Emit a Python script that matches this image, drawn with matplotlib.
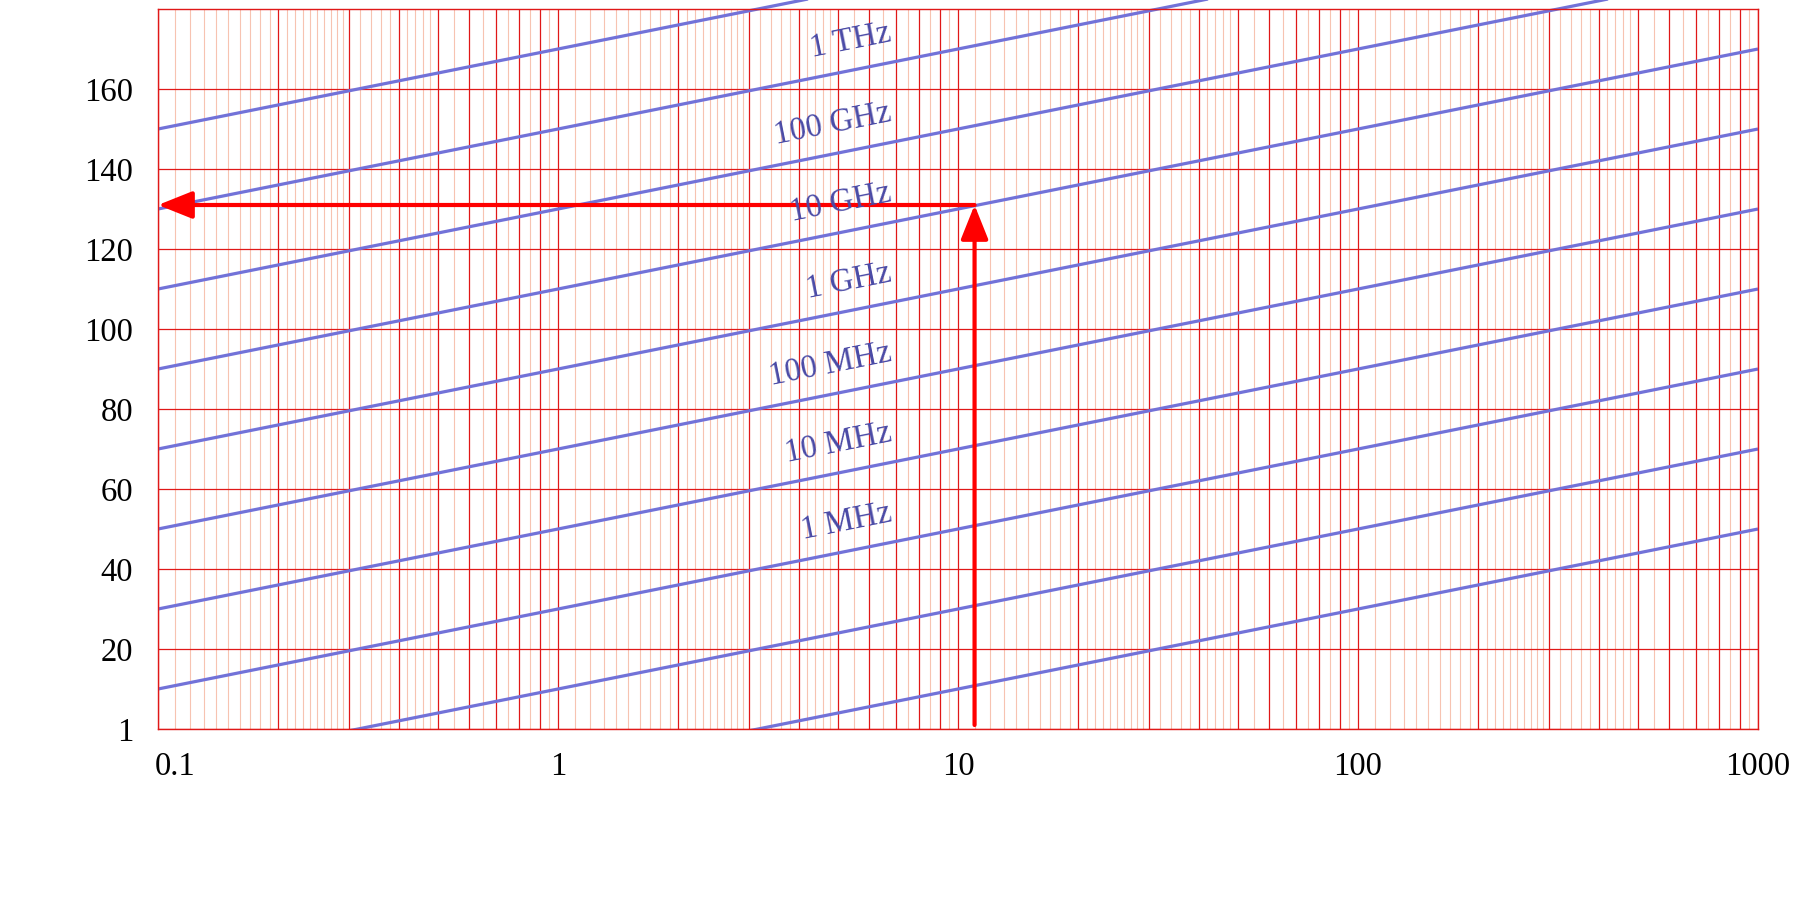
import matplotlib
matplotlib.use('Agg')
import matplotlib.pyplot as plt
from matplotlib.patches import Rectangle
import matplotlib.transforms as mtransforms
import numpy as np

plt.rcParams['font.family'] = ['Liberation Serif', 'DejaVu Serif']

# straight lines on the log axis, read at the two ends (x = 0.1 and x = 1000)
line_x = [0.1, 1000]
line_y_start = [150, 130, 110, 90, 70, 50, 30, 10, -10, -30]
line_y_end = [230, 210, 190, 170, 150, 130, 110, 90, 70, 50]

# labels of the lines, right end at x = 6.8
label_names = ['1 THz', '100 GHz', '10 GHz', '1 GHz', '100 MHz', '10 MHz', '1 MHz']
label_x = 6.8
label_y = [174, 154, 134, 114, 94, 74, 54]

# the read-off example (arrow)
arrow_x = 11
arrow_y = 131
arrow_y0 = 1

xtick_decades = [0.1, 1, 10, 100, 1000]
xtick_labels = ['0.1', '1', '10', '100', '1000']
ytick_values = [0, 20, 40, 60, 80, 100, 120, 140, 160]
ytick_labels = ['1', '20', '40', '60', '80', '100', '120', '140', '160']

major_subs = [1, 2, 3, 4, 5, 6, 7, 8, 9]
fine_subs = [1.1, 1.2, 1.3, 1.4, 1.5, 1.6, 1.7, 1.8, 1.9,
             2.1, 2.2, 2.3, 2.4, 2.5, 2.6, 2.7, 2.8, 2.9,
             3.2, 3.4, 3.6, 3.8, 4.2, 4.4, 4.6, 4.8,
             5.5, 6.5, 7.5, 8.5, 9.5]

fig = plt.figure(figsize=(18, 9), dpi=100)
ax = fig.add_axes([158 / 1800, 171 / 900, 1600 / 1800, 720 / 900])
ax.set_xscale('log')
ax.set_xlim(0.1, 1000)
ax.set_ylim(0, 180)

# grid
major_x = [d * s for d in xtick_decades[:-1] for s in major_subs] + [1000]
fine_x = [d * s for d in xtick_decades[:-1] for s in fine_subs]
ax.set_xticks(major_x)
ax.set_xticklabels([xtick_labels[xtick_decades.index(v)] if v in xtick_decades else ''
                    for v in major_x])
ax.set_xticks(fine_x, minor=True)
ax.set_xticklabels([], minor=True)
ax.set_yticks(ytick_values)
ax.set_yticklabels(ytick_labels)
ax.grid(which='major', color='#e01818', lw=0.9)
ax.grid(which='minor', axis='x', color='#f7c3b1', lw=0.8)
ax.tick_params(which='both', length=0)
ax.tick_params(axis='y', pad=18, labelsize=23.5)
ax.tick_params(axis='x', pad=16, labelsize=23.5)
first = ax.get_xticklabels()[0]
first.set_ha('left')
first.set_transform(first.get_transform() +
                    mtransforms.ScaledTranslation(-3 / 100, 0, fig.dpi_scale_trans))
for sp in ax.spines.values():
    sp.set_color('#e01818')
    sp.set_linewidth(1.0)
ax.set_axisbelow(True)

# let the lines run past the top of the axes
clip = Rectangle((0, 0), 1, 1.2, transform=ax.transAxes, visible=False)
ax.add_patch(clip)
for y0, y1 in zip(line_y_start, line_y_end):
    ln, = ax.plot(line_x, [y0, y1], color='#7272d8', lw=2.3, solid_capstyle='butt')
    ln.set_clip_path(clip)

for name, ly in zip(label_names, label_y):
    ax.text(label_x, ly, name, color='#4a4aa6', fontsize=23.5, rotation=11.3,
            rotation_mode='anchor', ha='right', va='center', zorder=6)

head = '-|>,head_length=0.7,head_width=0.28'
ax.annotate('', xy=(arrow_x, arrow_y), xytext=(arrow_x, arrow_y0),
            arrowprops=dict(arrowstyle=head, color='red', lw=3,
                            mutation_scale=30, shrinkA=0, shrinkB=0),
            zorder=5)
ax.annotate('', xy=(0.1, arrow_y), xytext=(arrow_x, arrow_y),
            arrowprops=dict(arrowstyle=head, color='red', lw=3,
                            mutation_scale=30, shrinkA=0, shrinkB=0),
            zorder=5)

plt.savefig('out.png')
